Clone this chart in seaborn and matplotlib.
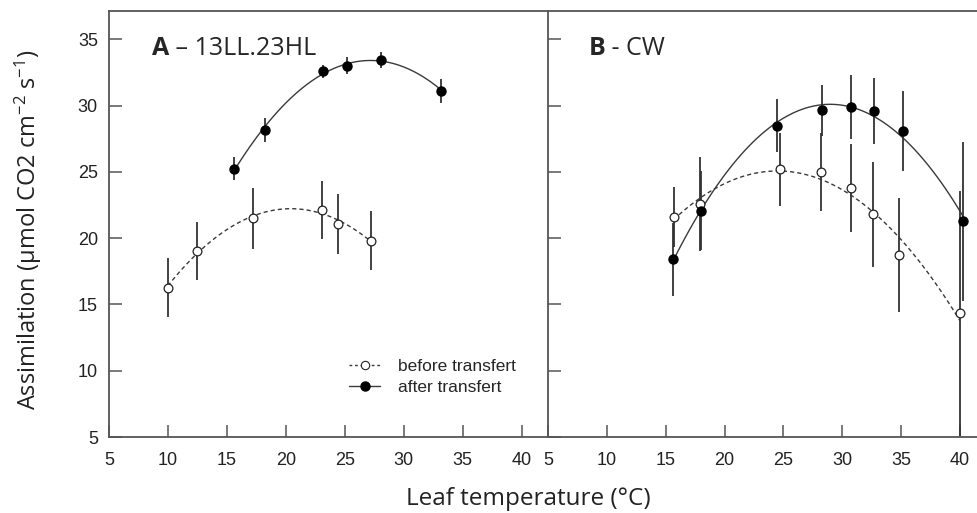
import numpy as np
import pandas as pd
import matplotlib
matplotlib.use('Agg')
import matplotlib.pyplot as plt
import seaborn as sns
from matplotlib.lines import Line2D

# Panel A - 13LL.23HL
a_before_x = [9.98, 12.44, 17.21, 23.04, 24.42, 27.22]
a_before_y = [16.27, 19.04, 21.51, 22.14, 21.06, 19.82]
a_before_err = [2.2, 2.2, 2.3, 2.2, 2.25, 2.25]
a_after_x = [15.60, 18.23, 23.12, 25.19, 28.07, 33.19]
a_after_y = [25.24, 28.14, 32.58, 33.01, 33.46, 31.12]
a_after_err = [0.85, 0.9, 0.5, 0.65, 0.6, 0.9]

# Panel B - CW
b_before_x = [15.68, 17.89, 24.69, 28.20, 30.73, 32.63, 34.81, 40.00]
b_before_y = [21.57, 22.57, 25.20, 25.00, 23.78, 21.79, 18.71, 14.33]
b_before_err = [2.26, 3.57, 2.75, 2.94, 3.3, 3.95, 4.3, 9.25]
b_after_x = [15.60, 17.98, 24.44, 28.32, 30.73, 32.66, 35.18, 40.28]
b_after_y = [18.40, 22.07, 28.49, 29.63, 29.88, 29.58, 28.07, 21.26]
b_after_err = [2.77, 3.0, 2.0, 1.9, 2.4, 2.5, 3.0, 6.0]

x_ticks = [5, 10, 15, 20, 25, 30, 35, 40]
y_ticks = [5, 10, 15, 20, 25, 30, 35]

sns.set_style('white')
plt.rcParams['font.family'] = ['Liberation Sans', 'DejaVu Sans']
plt.rcParams['mathtext.fontset'] = 'custom'
plt.rcParams['mathtext.rm'] = 'Open Sans'
plt.rcParams['mathtext.it'] = 'Open Sans:italic'

line_col = '#3a3a3a'
spine_col = '#555555'

fig = plt.figure(figsize=(9.77, 5.13), dpi=100)
ax_a = fig.add_axes([0.1116, 0.1481, 0.4493, 0.8304])
ax_b = fig.add_axes([0.5609, 0.1481, 0.4391, 0.8304])


def draw_panel(ax, bx, by, be, fx, fy, fe):
    before = pd.DataFrame({'t': bx, 'a': by})
    after = pd.DataFrame({'t': fx, 'a': fy})
    # quadratic fits
    sns.regplot(data=before, x='t', y='a', order=2, ci=None, scatter=False, ax=ax,
                line_kws=dict(color=line_col, lw=1.0, ls=(0, (3, 2.2)), zorder=2))
    sns.regplot(data=after, x='t', y='a', order=2, ci=None, scatter=False, ax=ax,
                line_kws=dict(color=line_col, lw=1.0, zorder=2))
    # error bars
    ax.errorbar(bx, by, yerr=be, fmt='none', ecolor='#333333', elinewidth=1.3, capsize=0, zorder=3)
    ax.errorbar(fx, fy, yerr=fe, fmt='none', ecolor='#333333', elinewidth=1.3, capsize=0, zorder=3)
    # markers
    ax.plot(bx, by, 'o', ms=6.3, mfc='white', mec='#222222', mew=0.9, ls='none', zorder=4)
    ax.plot(fx, fy, 'o', ms=6.5, mfc='black', mec='black', ls='none', zorder=4)
    ax.set_ylim(5, 37.13)
    ax.set_xticks(x_ticks)
    ax.set_yticks(y_ticks)
    ax.set_xlabel('')
    ax.set_ylabel('')
    ax.tick_params(bottom=True, left=True, direction='in', length=9, width=1.1,
                   color=spine_col, labelsize=13, labelcolor='#222222', pad=8)
    ax.tick_params(axis='x', pad=11)
    for s in ax.spines.values():
        s.set_color(spine_col)
        s.set_linewidth(1.3)


draw_panel(ax_a, a_before_x, a_before_y, a_before_err, a_after_x, a_after_y, a_after_err)
draw_panel(ax_b, b_before_x, b_before_y, b_before_err, b_after_x, b_after_y, b_after_err)

ax_a.set_xlim(5, 42.23)
ax_b.set_xlim(5, 41.45)
ax_b.tick_params(labelleft=False)
ax_a.spines['right'].set_visible(False)
ax_b.spines['right'].set_visible(False)

# panel titles
ta = ax_a.text(0.097, 0.897, 'A', transform=ax_a.transAxes, fontsize=18,
               fontweight='bold', family='Open Sans', va='baseline')
ax_a.annotate(' \u2013 13LL.23HL', xy=(1, 0), xycoords=ta, va='bottom',
              fontsize=18, family='Open Sans')
tb = ax_b.text(0.094, 0.897, 'B', transform=ax_b.transAxes, fontsize=18,
               fontweight='bold', family='Open Sans', va='baseline')
ax_b.annotate(' - CW', xy=(1, 0), xycoords=tb, va='bottom',
              fontsize=18, family='Open Sans')

# legend
handles = [
    Line2D([], [], color=line_col, lw=1.0, ls=(0, (2, 2)), marker='o', ms=6,
           mfc='white', mec='#222222', mew=0.8),
    Line2D([], [], color=line_col, lw=1.0, marker='o', ms=6.5, mfc='black', mec='black'),
]
ax_a.legend(handles, ['before transfert', 'after transfert'], loc='upper left',
            bbox_to_anchor=(0.547, 0.183), frameon=False, fontsize=12.5,
            handlelength=1.8, handletextpad=1.0, labelspacing=0.3,
            borderpad=0, borderaxespad=0)

fig.text(0.541, 0.016, 'Leaf temperature (\u00b0C)', ha='center', va='baseline',
         fontsize=17.5, family='Open Sans', color='#222222')
fig.text(0.029, 0.552, 'Assimilation (\u00b5mol CO2 cm$^{-2}$ s$^{-1}$)', ha='center',
         va='center', rotation=90, fontsize=17, family='Open Sans', color='#222222')

fig.savefig('out.png', dpi=100)
